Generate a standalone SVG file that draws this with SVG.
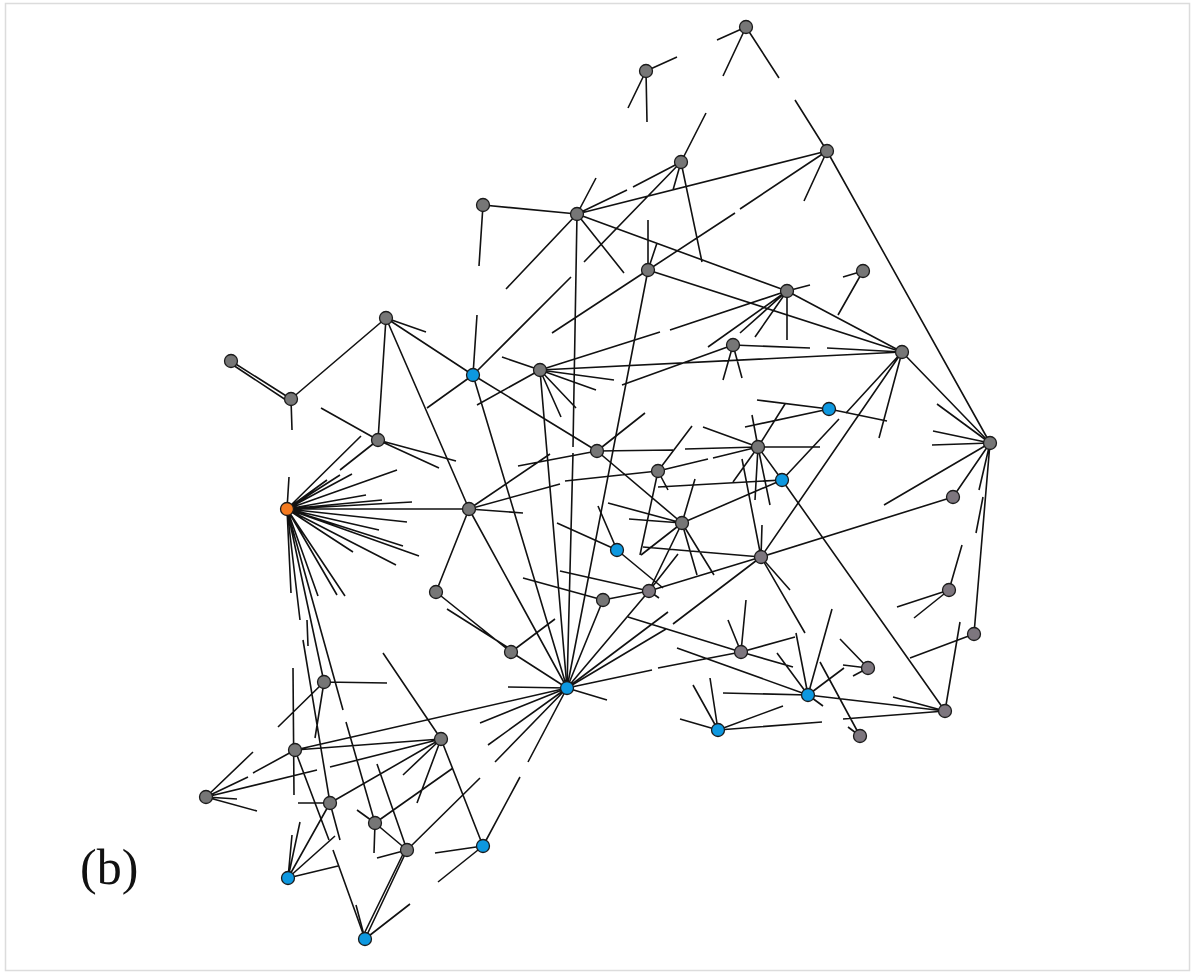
<svg xmlns="http://www.w3.org/2000/svg" width="1195" height="975" viewBox="0 0 1195 975">
<style>
.e path{fill:none;stroke:#111;stroke-width:1.6;stroke-linecap:butt}
.n circle{stroke:#1a1a1a;stroke-width:1.3}
.g{fill:#767676}.m{fill:#7d767e}.b{fill:#0d98e0}.o{fill:#f47a20}
.lbl{font-family:"Liberation Serif",serif;font-size:50px;fill:#111}
</style>
<rect x="5.5" y="3.5" width="1184" height="967" fill="#fff" stroke="#dcdcdc" stroke-width="1.5"/>
<g id="edges" class="e">
<path d="M746 27L717 40M746 27L723 76M746 27L779 78M795 100L827 151M827 151L990 443M646 71L677 57M646 71L628 108M646 71L647 122M681 162L706 113M681 162L633 187M627 190L577 214M681 162L702 262M681 162L584 262M571 277L473 375M681 162L673 190M577 214L827 151M827 151L740 209M735 213L648 270M827 151L804 201"/>
<path d="M483 205L577 214M483 205L479 266M577 214L506 289M577 214L573 447M573 453L567 688M577 214L624 273M577 214L787 291M577 214L596 178M648 270L648 220M648 270L657 243M648 270L552 333M648 270L567 688M648 270L902 352M863 271L843 277M863 271L838 315"/>
<path d="M787 291L810 285M787 291L755 337M787 291L787 340M787 291L708 347M787 291L740 333M540 370L660 332M670 330L787 291M787 291L902 352M733 345L810 348M827 348L902 352M733 345L723 380M733 345L742 378M540 370L902 352M733 345L622 385M902 352L990 443M902 352L879 438M902 352L761 557M902 352L846 413M839 419L782 480"/>
<path d="M757 400L829 409L887 421M745 427L829 409M758 447L785 404M990 443L937 404M990 443L933 431M990 443L932 445M990 443L884 505M990 443L953 497M990 443L979 490M983 497L976 533M990 443L974 634M953 497L761 557M949 590L962 545M949 590L897 607M949 590L914 618M974 634L910 658M782 480L945 711M945 711L960 622M945 711L893 697M808 695L945 711M718 730L822 722M843 719L945 711M868 668L843 665M868 668L853 676M840 639L868 668M860 736L848 727M761 557L805 633M820 662L860 736"/>
<path d="M386 318L291 399M231 361L291 399M233 365L289 402M291 399L292 430M386 318L426 332M386 318L473 375M386 318L378 440M386 318L469 509M473 375L477 315M473 375L427 408M473 375L597 451M473 375L567 688M540 370L502 357M540 370L477 405M540 370L614 380M540 370L596 390M540 370L576 408M540 370L561 417M540 370L567 688"/>
<path d="M378 440L321 408M378 440L456 461M378 440L439 468M378 440L340 470M287 509L289 477M287 509L327 480M287 509L340 475M287 509L352 474M287 509L397 470M287 509L361 436M287 509L366 495M287 509L382 500M287 509L412 502M287 509L469 509M287 509L407 522M287 509L379 530M287 509L403 546M287 509L419 556M287 509L396 565M287 509L353 552M287 509L345 596M287 509L337 595M287 509L291 593M287 509L318 596"/>
<path d="M469 509L436 592M469 509L550 454M469 509L560 484M469 509L523 513M469 509L567 688M597 451L645 413M597 451L518 466M597 451L682 523M597 451L673 450M685 449L758 447M658 471L692 426M658 471L565 481M658 471L668 490M658 471L640 555M658 471L708 459M713 458L758 447M782 480L658 487"/>
<path d="M682 523L608 503M682 523L629 519M682 523L695 479M682 523L649 591M682 523L782 480M682 523L697 575M682 523L714 575M682 523L641 555M758 447L703 427M758 447L752 415M758 447L782 480M758 447L770 505M758 447L755 500M758 447L733 482M758 447L820 447M761 557L742 459M761 557L762 525M761 557L643 547M761 557L790 590M761 557L649 591M761 557L673 624M666 629L567 688M617 550L598 506M617 550L557 523M617 550L663 588"/>
<path d="M603 600L649 591M603 600L567 688M523 578L603 600M560 571L649 591M649 591L678 554M649 591L659 598M628 617L741 652M511 652L555 619M511 652L567 688M436 592L511 652M447 609L507 647M567 688L508 687M567 688L607 700M567 688L652 670M658 668L741 652M567 688L649 591M567 688L668 612M741 652L728 620M741 652L746 600M741 652L795 637M741 652L793 667M677 648L808 695M718 730L693 685M718 730L710 678M718 730L680 719M718 730L783 706M808 695L723 693M808 695L832 609M808 695L796 633M808 695L777 653M808 695L844 668M808 695L823 706"/>
<path d="M287 509L324 682M324 682L387 683M324 682L278 727M324 682L315 738M287 509L300 620M303 640L330 803M287 509L343 710M346 722L375 823M307 620L308 646M293 668L294 795M295 750L567 688M295 750L329 840M333 850L365 939M206 797L253 752M206 797L248 777M253 773L295 750M206 797L237 799M206 797L257 811M206 797L317 770M330 767L441 739M295 750L441 739"/>
<path d="M330 803L298 803M330 803L441 739M330 803L288 878M330 803L340 840M375 823L407 850M375 823L357 810M375 823L374 853M375 823L453 768M407 850L480 778M407 850L377 764M407 850L365 939M405 850L362 938M288 878L338 866M377 858L407 850M288 878L292 835M288 878L300 822M288 878L335 836M483 846L435 853M483 846L438 882M483 846L441 739M483 846L520 777M528 762L567 688M441 739L383 653M441 739L417 803M441 739L403 775M365 939L410 904M365 939L356 905M567 688L480 723M567 688L488 745M567 688L495 762"/>
</g>
<g id="nodes" class="n">
<g id="nA"><circle class="g" cx="746" cy="27" r="6.5"/></g>
<g id="nB"><circle class="g" cx="646" cy="71" r="6.5"/></g>
<g id="nC"><circle class="g" cx="827" cy="151" r="6.5"/></g>
<g id="nD"><circle class="g" cx="681" cy="162" r="6.5"/></g>
<g id="nE"><circle class="g" cx="483" cy="205" r="6.5"/></g>
<g id="nF"><circle class="g" cx="577" cy="214" r="6.5"/></g>
<g id="nG"><circle class="g" cx="648" cy="270" r="6.5"/></g>
<g id="nH"><circle class="g" cx="863" cy="271" r="6.5"/></g>
<g id="nI"><circle class="g" cx="787" cy="291" r="6.5"/></g>
<g id="nJ"><circle class="g" cx="386" cy="318" r="6.5"/></g>
<g id="nK"><circle class="g" cx="733" cy="345" r="6.5"/></g>
<g id="nL"><circle class="g" cx="902" cy="352" r="6.5"/></g>
<g id="nM"><circle class="g" cx="231" cy="361" r="6.5"/></g>
<g id="nN"><circle class="g" cx="291" cy="399" r="6.5"/></g>
<g id="nO"><circle class="g" cx="540" cy="370" r="6.5"/></g>
<g id="nP"><circle class="g" cx="378" cy="440" r="6.5"/></g>
<g id="nQ"><circle class="g" cx="990" cy="443" r="6.5"/></g>
<g id="nR"><circle class="g" cx="597" cy="451" r="6.5"/></g>
<g id="nS"><circle class="g" cx="758" cy="447" r="6.5"/></g>
<g id="nT"><circle class="g" cx="658" cy="471" r="6.5"/></g>
<g id="nU"><circle class="g" cx="469" cy="509" r="6.5"/></g>
<g id="nV"><circle class="m" cx="953" cy="497" r="6.5"/></g>
<g id="nW"><circle class="g" cx="682" cy="523" r="6.5"/></g>
<g id="nX"><circle class="m" cx="761" cy="557" r="6.5"/></g>
<g id="nY"><circle class="g" cx="436" cy="592" r="6.5"/></g>
<g id="nZ"><circle class="g" cx="603" cy="600" r="6.5"/></g>
<g id="nAA"><circle class="m" cx="649" cy="591" r="6.5"/></g>
<g id="nAB"><circle class="m" cx="949" cy="590" r="6.5"/></g>
<g id="nAC"><circle class="m" cx="974" cy="634" r="6.5"/></g>
<g id="nAD"><circle class="g" cx="511" cy="652" r="6.5"/></g>
<g id="nAE"><circle class="m" cx="741" cy="652" r="6.5"/></g>
<g id="nAF"><circle class="m" cx="868" cy="668" r="6.5"/></g>
<g id="nAG"><circle class="g" cx="324" cy="682" r="6.5"/></g>
<g id="nAH"><circle class="m" cx="945" cy="711" r="6.5"/></g>
<g id="nAI"><circle class="m" cx="860" cy="736" r="6.5"/></g>
<g id="nAJ"><circle class="g" cx="441" cy="739" r="6.5"/></g>
<g id="nAK"><circle class="g" cx="295" cy="750" r="6.5"/></g>
<g id="nAL"><circle class="g" cx="206" cy="797" r="6.5"/></g>
<g id="nAM"><circle class="g" cx="330" cy="803" r="6.5"/></g>
<g id="nAN"><circle class="g" cx="375" cy="823" r="6.5"/></g>
<g id="nAO"><circle class="g" cx="407" cy="850" r="6.5"/></g>
<g id="nOR"><circle class="o" cx="287" cy="509" r="6.5"/></g>
<g id="b1"><circle class="b" cx="473" cy="375" r="6.5"/></g>
<g id="b2"><circle class="b" cx="829" cy="409" r="6.5"/></g>
<g id="b3"><circle class="b" cx="782" cy="480" r="6.5"/></g>
<g id="b4"><circle class="b" cx="617" cy="550" r="6.5"/></g>
<g id="b5"><circle class="b" cx="567" cy="688" r="6.5"/></g>
<g id="b6"><circle class="b" cx="808" cy="695" r="6.5"/></g>
<g id="b7"><circle class="b" cx="718" cy="730" r="6.5"/></g>
<g id="b8"><circle class="b" cx="483" cy="846" r="6.5"/></g>
<g id="b9"><circle class="b" cx="288" cy="878" r="6.5"/></g>
<g id="b10"><circle class="b" cx="365" cy="939" r="6.5"/></g>
</g>
<text class="lbl" x="80" y="884">(b)</text>
</svg>
